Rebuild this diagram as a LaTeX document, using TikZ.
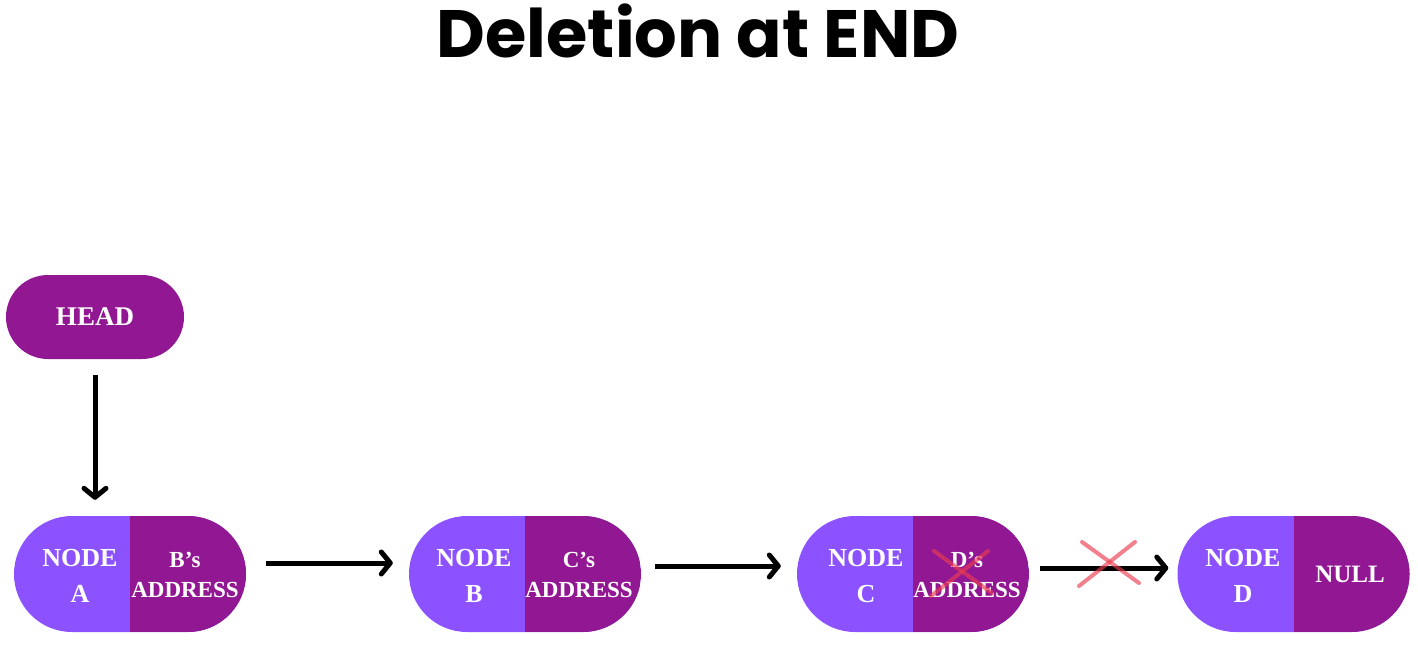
\documentclass[tikz,border=0pt]{standalone}
\usepackage{fontspec}
\setmainfont{Liberation Serif}
\newfontfamily\titlefont{Poppins}
\usetikzlibrary{shapes.misc,arrows.meta}
\definecolor{lightpurple}{HTML}{8C52FF}
\definecolor{darkpurple}{HTML}{921893}
\definecolor{crossred}{RGB}{235,60,80}
\tikzset{
  pill/.style={rounded rectangle, minimum width=232pt, minimum height=116pt, inner sep=0pt, fill=lightpurple,
    path picture={\fill[darkpurple] (path picture bounding box.north) rectangle (path picture bounding box.south east);}},
  headbox/.style={rounded rectangle, minimum width=178pt, minimum height=84pt, inner sep=0pt, fill=darkpurple,
    text=white, font=\bfseries\fontsize{27}{30}\selectfont},
  lefttxt/.style={text=white, align=center, font=\bfseries\fontsize{26}{36}\selectfont, inner sep=0pt},
  righttxt/.style={text=white, align=center, font=\bfseries\fontsize{23}{30}\selectfont, inner sep=0pt},
  arr/.style={line width=5pt, -{Straight Barb[length=9pt,width=22pt,line cap=round,line join=round]}},
  crossline/.style={line width=4pt, line cap=round, draw=crossred, draw opacity=0.65}
}
\begin{document}
\begin{tikzpicture}[x=1pt,y=-1pt]
\useasboundingbox (0,0) rectangle (1418,656);
\node[font=\titlefont\bfseries\fontsize{67}{80}\selectfont, inner sep=0pt] (title) at (698,31) {Deletion at END};

\node[headbox] (head) at (95,317) {HEAD};

\node[pill] (A) at (130,574) {};
\node[pill] (B) at (525,574) {};
\node[pill] (C) at (913,574) {};
\node[pill] (D) at (1293.5,574) {};

\node[lefttxt] (At) at (80,576) {NODE\\A};
\node[righttxt] (Ar) at (185,575) {B’s\\ADDRESS};
\node[lefttxt] (Bt) at (474,576) {NODE\\B};
\node[righttxt] (Br) at (579,575) {C’s\\ADDRESS};
\node[lefttxt] (Ct) at (866,576) {NODE\\C};
\node[righttxt] (Cr) at (967,575) {D’s\\ADDRESS};
\node[lefttxt] (Dt) at (1243,576) {NODE\\D};
\node[righttxt, font=\bfseries\fontsize{25}{30}\selectfont] (Dr) at (1350,574) {NULL};

\draw[arr] ([yshift=-16pt]head.south) -- ([yshift=16pt]head.south |- A.north);
\draw[arr] ([xshift=20pt,yshift=11pt]A.east) -- ([xshift=-16pt,yshift=11pt]B.west);
\draw[arr] ([xshift=14pt,yshift=8pt]B.east) -- ([xshift=-16pt,yshift=8pt]C.west);
\draw[arr] ([xshift=11pt,yshift=6pt]C.east) -- ([xshift=-9pt,yshift=6pt]D.west);

% crosses
\coordinate (x1a) at (931,596); \coordinate (x1b) at (988,551);
\coordinate (x1c) at (934,551); \coordinate (x1d) at (992,593);
\draw[crossline] (x1a) -- (x1b);
\draw[crossline] (x1c) -- (x1d);
\coordinate (x2a) at (1079,586); \coordinate (x2b) at (1135,542);
\coordinate (x2c) at (1082,542); \coordinate (x2d) at (1139,583);
\draw[crossline] (x2a) -- (x2b);
\draw[crossline] (x2c) -- (x2d);
\end{tikzpicture}
\end{document}
